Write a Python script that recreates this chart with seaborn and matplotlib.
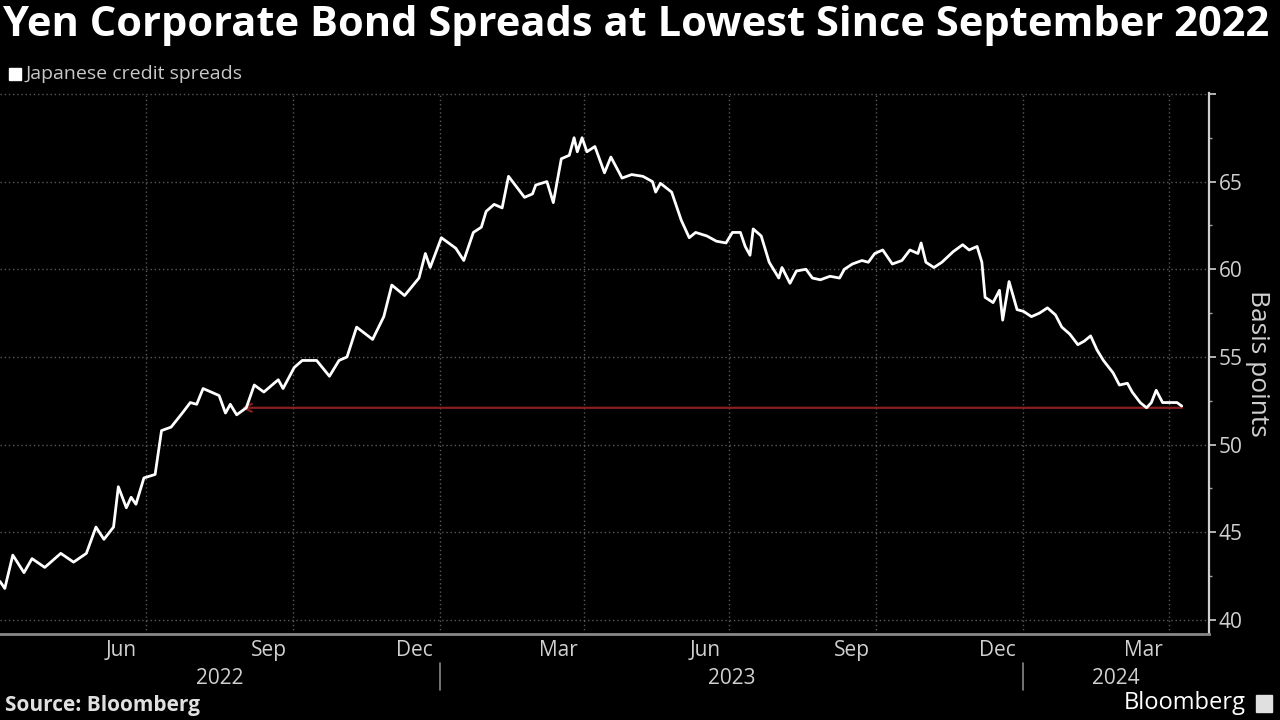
import matplotlib.pyplot as plt
import matplotlib.dates as mdates
import matplotlib.transforms as mtransforms
import pandas as pd
import seaborn as sns
from matplotlib.patches import Rectangle

# Japanese credit spreads (bp)
dates = [
    "2022-04-01", "2022-04-04", "2022-04-09", "2022-04-16", "2022-04-21", "2022-04-29",
    "2022-05-09", "2022-05-17", "2022-05-25", "2022-05-31", "2022-06-05", "2022-06-11",
    "2022-06-14", "2022-06-19", "2022-06-22", "2022-06-25", "2022-06-30", "2022-07-07",
    "2022-07-11", "2022-07-17", "2022-07-24", "2022-07-29", "2022-08-02", "2022-08-06",
    "2022-08-16", "2022-08-20", "2022-08-23", "2022-08-27", "2022-09-02", "2022-09-07",
    "2022-09-13", "2022-09-22", "2022-09-25", "2022-10-02", "2022-10-07", "2022-10-16",
    "2022-10-24", "2022-10-30", "2022-11-04", "2022-11-10", "2022-11-20", "2022-11-27",
    "2022-12-02", "2022-12-10", "2022-12-19", "2022-12-23", "2022-12-26", "2023-01-02",
    "2023-01-11", "2023-01-16", "2023-01-22", "2023-01-27", "2023-01-30", "2023-02-04",
    "2023-02-09", "2023-02-13", "2023-02-23", "2023-02-28", "2023-03-02", "2023-03-09",
    "2023-03-13", "2023-03-18", "2023-03-23", "2023-03-26", "2023-03-28", "2023-03-31",
    "2023-04-03", "2023-04-08", "2023-04-14", "2023-04-18", "2023-04-25", "2023-05-01",
    "2023-05-08", "2023-05-14", "2023-05-16", "2023-05-19", "2023-05-26", "2023-06-01",
    "2023-06-06", "2023-06-10", "2023-06-17", "2023-06-23", "2023-06-29", "2023-07-03",
    "2023-07-08", "2023-07-11", "2023-07-14", "2023-07-16", "2023-07-21", "2023-07-26",
    "2023-08-01", "2023-08-03", "2023-08-08", "2023-08-12", "2023-08-18", "2023-08-22",
    "2023-08-27", "2023-09-02", "2023-09-08", "2023-09-11", "2023-09-16", "2023-09-22",
    "2023-09-26", "2023-09-30", "2023-10-05", "2023-10-11", "2023-10-17", "2023-10-22",
    "2023-10-27", "2023-10-29", "2023-11-01", "2023-11-06", "2023-11-11", "2023-11-18",
    "2023-11-24", "2023-11-28", "2023-12-03", "2023-12-06", "2023-12-08", "2023-12-13",
    "2023-12-17", "2023-12-19", "2023-12-23", "2023-12-28", "2024-01-01", "2024-01-06",
    "2024-01-11", "2024-01-16", "2024-01-21", "2024-01-25", "2024-01-30", "2024-02-04",
    "2024-02-08", "2024-02-12", "2024-02-16", "2024-02-20", "2024-02-26", "2024-03-01",
    "2024-03-06", "2024-03-09", "2024-03-14", "2024-03-18", "2024-03-21", "2024-03-24",
    "2024-03-28", "2024-04-01", "2024-04-06", "2024-04-09",
]
spreads = [
    42.2, 41.8, 43.7, 42.7, 43.5, 43.0,
    43.8, 43.3, 43.8, 45.3, 44.6, 45.3,
    47.6, 46.4, 47.0, 46.6, 48.1, 48.3,
    50.8, 51.0, 51.8, 52.4, 52.3, 53.2,
    52.8, 51.8, 52.3, 51.7, 52.1, 53.4,
    53.0, 53.7, 53.2, 54.4, 54.8, 54.8,
    53.9, 54.8, 55.0, 56.7, 56.0, 57.3,
    59.1, 58.5, 59.5, 60.9, 60.1, 61.8,
    61.2, 60.5, 62.1, 62.4, 63.3, 63.7,
    63.5, 65.3, 64.1, 64.3, 64.8, 65.0,
    63.8, 66.3, 66.5, 67.5, 66.7, 67.5,
    66.7, 67.0, 65.5, 66.4, 65.2, 65.4,
    65.3, 65.0, 64.4, 64.9, 64.4, 62.8,
    61.8, 62.1, 61.9, 61.6, 61.5, 62.1,
    62.1, 61.3, 60.8, 62.3, 61.9, 60.4,
    59.5, 60.1, 59.2, 59.9, 60.0, 59.5,
    59.4, 59.6, 59.5, 60.0, 60.3, 60.5,
    60.4, 60.9, 61.1, 60.3, 60.5, 61.1,
    60.9, 61.5, 60.4, 60.1, 60.4, 61.0,
    61.4, 61.1, 61.3, 60.4, 58.4, 58.1,
    58.8, 57.1, 59.3, 57.7, 57.6, 57.3,
    57.5, 57.8, 57.4, 56.7, 56.3, 55.7,
    55.9, 56.2, 55.4, 54.8, 54.1, 53.4,
    53.5, 53.0, 52.4, 52.1, 52.4, 53.1,
    52.4, 52.4, 52.4, 52.2,
]

# red arrow back to the previous low
arrow_from = "2024-04-09"
arrow_to = "2022-08-30"
arrow_level = 52.1

y_ticks = [40, 45, 50, 55, 60, 65, 70]
y_tick_labels = ["40", "45", "50", "55", "60", "65", ""]
year_labels = ["2022", "2023", "2024"]
year_breaks = ["2023-01-01", "2024-01-01"]
x_start, x_end = "2022-04-01", "2024-04-26"

df = pd.DataFrame({"date": pd.to_datetime(dates), "spread": spreads})

sns.set_style("dark")
plt.rcParams["font.family"] = ["Open Sans", "DejaVu Sans"]

fig = plt.figure(figsize=(12.8, 7.2), dpi=100, facecolor="black")
ax = fig.add_axes([0.0, 0.1194, 0.9445, 0.7514])
ax.set_facecolor("black")

ax.annotate("", xy=(pd.Timestamp(arrow_to), arrow_level),
            xytext=(pd.Timestamp(arrow_from), arrow_level),
            arrowprops=dict(arrowstyle="->", color="#8a1f1f", lw=1.6,
                            mutation_scale=14, shrinkA=0, shrinkB=0),
            zorder=2)

sns.lineplot(data=df, x="date", y="spread", ax=ax, color="white", lw=2.0, zorder=3)

ax.set_xlim(pd.Timestamp(x_start), pd.Timestamp(x_end))
ax.set_ylim(39.2, 70.05)

# y axis on the right
ax.yaxis.tick_right()
ax.yaxis.set_label_position("right")
ax.set_yticks(y_ticks)
ax.set_yticklabels(y_tick_labels)
ax.yaxis.set_minor_locator(plt.MultipleLocator(2.5))
ax.tick_params(axis="y", which="major", direction="out", length=5, width=1.2,
               colors="#d0d0d0", labelsize=15, pad=2, left=False, right=True)
ax.tick_params(axis="y", which="minor", direction="out", length=2, width=1,
               colors="#a0a0a0", left=False, right=True)
ax.set_ylabel("Basis points", rotation=270, fontsize=19, color="#d0d0d0", labelpad=20)

# x axis: month ticks, quarter labels mid-month
ax.xaxis.set_major_locator(mdates.MonthLocator())
ax.xaxis.set_major_formatter(plt.NullFormatter())
ax.xaxis.set_minor_locator(mdates.MonthLocator(bymonth=[3, 6, 9, 12], bymonthday=16))
ax.xaxis.set_minor_formatter(mdates.DateFormatter("%b"))
ax.tick_params(axis="x", which="major", direction="out", length=5, width=1.2, colors="#888888")
ax.tick_params(axis="x", which="minor", length=0, labelsize=15, labelcolor="#d0d0d0", pad=4)
ax.set_xlabel("")

# dotted grid
grid_kw = dict(color="#5a5a5a", lw=1, ls=(0, (1, 2)), zorder=1)
ax.grid(False)
for t in y_ticks:
    ax.axhline(t, **grid_kw)
for q in pd.date_range(x_start, x_end, freq="QS-JAN"):
    if q > pd.Timestamp(x_start):
        ax.axvline(q, **grid_kw)

for side in ["left", "top"]:
    ax.spines[side].set_visible(False)
ax.spines["right"].set_color("#d0d0d0")
ax.spines["right"].set_linewidth(1.6)
ax.spines["bottom"].set_color("#888888")
ax.spines["bottom"].set_linewidth(2)

# year labels and separators under the axis
trans = mtransforms.blended_transform_factory(ax.transData, ax.transAxes)
bounds = [pd.Timestamp(x_start)] + [pd.Timestamp(b) for b in year_breaks] + [pd.Timestamp(x_end)]
for i, label in enumerate(year_labels):
    mid = bounds[i] + (bounds[i + 1] - bounds[i]) / 2
    ax.text(mid, -0.083, label, transform=trans, ha="center", va="center",
            fontsize=15, color="#d0d0d0")
for b in year_breaks:
    ax.plot([pd.Timestamp(b)] * 2, [-0.054, -0.104], transform=trans,
            clip_on=False, color="#888888", lw=1.2)

# title, legend, footer
fig.text(0.002, 1 - 26 / 720, "Yen Corporate Bond Spreads at Lowest Since September 2022",
         fontsize=30, weight="bold", color="white", va="center", ha="left")
fig.patches.append(Rectangle((9 / 1280, 1 - 80 / 720), 12 / 1280, 12 / 720,
                             transform=fig.transFigure, color="white"))
fig.text(25 / 1280, 1 - 74 / 720, "Japanese credit spreads", fontsize=14,
         color="#c8c8c8", va="center", ha="left")
fig.text(5 / 1280, 1 - 705 / 720, "Source: Bloomberg", fontsize=15, weight="bold",
         color="#e0e0e0", va="center", ha="left")
fig.text(1246 / 1280, 1 - 703 / 720, "Bloomberg", fontsize=17, color="white",
         va="center", ha="right")
fig.patches.append(Rectangle((1256 / 1280, 1 - 712 / 720), 16 / 1280, 17 / 720,
                             transform=fig.transFigure, color="#e0e0e0"))

fig.savefig("out.png", dpi=100, facecolor="black")
